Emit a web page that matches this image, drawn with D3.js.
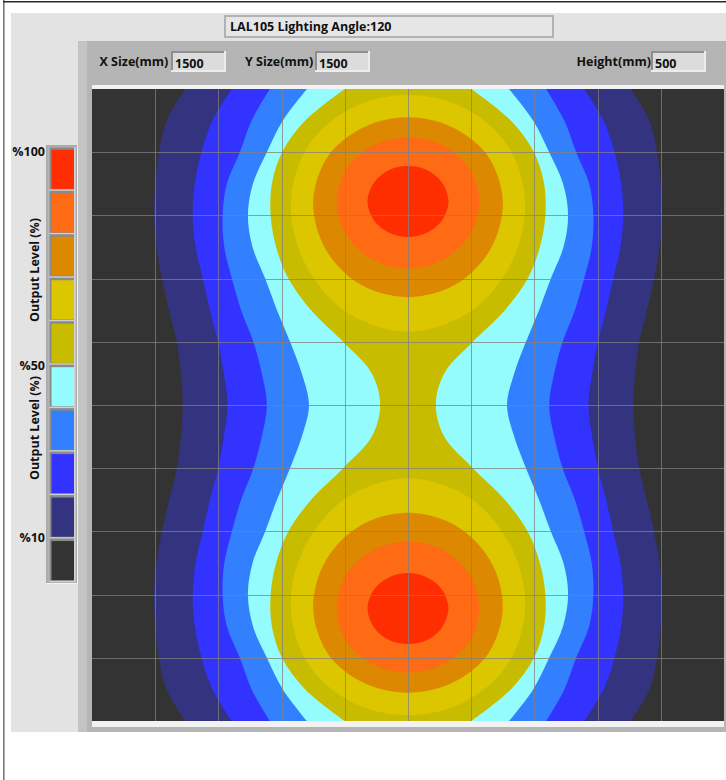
<!DOCTYPE html>
<html><head><meta charset="utf-8">
<script src="https://cdn.jsdelivr.net/npm/d3@7"></script>
<style>html,body{margin:0;padding:0;background:#fff;} svg{display:block;font-family:"Open Sans","Liberation Sans",sans-serif;}</style>
</head><body><svg id="c" width="726" height="780"></svg>
<script>
// ---------------- data (mm) ----------------
const sizeXmm = 1500, sizeYmm = 1500, heightMm = 500;
const titleText = "LAL105 Lighting Angle:120";
const fieldLabels = ["X Size(mm)", "Y Size(mm)", "Height(mm)"];
const fieldValues = ["1500", "1500", "500"];

// level colours, highest output first
const levelColors = ["#ff2e00", "#ff6a14", "#dc8800", "#dbc600", "#c8bc00",
                     "#94fcfc", "#3380ff", "#3333ff", "#333380", "#333333"];
const legendLabels = ["%100", "%50", "%10"];
const legendLabelLevels = [100, 50, 10];
const legendTitle = "Output Level (%)";

// outer bands: half-width (mm) of each band boundary at rows (mm from top edge), upper half
const rowsMM = [0, 75, 150, 225, 300, 375, 450, 525, 600, 675, 750];
const navyHalfWidth      = [529, 573, 591, 600, 603, 597, 584, 567, 549, 539, 535];
const blueHalfWidth      = [418, 464, 490, 506, 511, 504, 487, 470, 451, 437, 428];
const lightBlueHalfWidth = [328, 371, 399, 430, 440, 436, 418, 396, 367, 347, 335];
const cyanHalfWidth      = [240, 297, 335, 368, 380, 369, 339, 311, 280, 252, 235];
const oliveHalfWidth     = [150, 244, 299, 323, 326, 313, 284, 230, 154,  86,  66];

// closed contours around each lamp: radius (mm) at angle (deg, 0 = away from the other lamp)
const lampXmm = 750;
const lampYmm = [267, 1233];
const contourAnglesDeg  = [0, 30, 60, 90, 120, 150, 180];
const yellowRadius      = [253, 259, 271, 278, 285, 300, 309];
const darkOrangeRadius  = [200, 205, 218, 225, 226, 227, 227];
const orangeRadius      = [152, 156, 165, 169, 166, 161, 159];
const redRadius         = [ 84,  87,  92,  96,  92,  86,  84];

const gridStepMm = 150;

// ---------------- drawing ----------------
const svg = d3.select("#c");
const W = 726, H = 780;
const plot = {x0: 92, x1: 724, y0: 89, y1: 721};
const FS = 12.5;

const x = d3.scaleLinear().domain([0, sizeXmm]).range([plot.x0, plot.x1]);
const y = d3.scaleLinear().domain([0, sizeYmm]).range([plot.y0, plot.y1]);
const r = d3.scaleLinear().domain([0, sizeXmm]).range([0, plot.x1 - plot.x0]);

// window frame
svg.append("rect").attr("x", 3).attr("y", 0).attr("width", 1.6).attr("height", H).attr("fill", "#7a7a7a");
svg.append("rect").attr("x", 3).attr("y", 1).attr("width", W - 3).attr("height", 1.5).attr("fill", "#2a2a2a");
// light panel
svg.append("rect").attr("x", 11).attr("y", 13).attr("width", W - 11).attr("height", 719).attr("fill", "#e3e3e3");
// gray panel
svg.append("rect").attr("x", 78).attr("y", 41).attr("width", W - 78).attr("height", 691).attr("fill", "#b5b5b5");
svg.append("rect").attr("x", 78).attr("y", 41).attr("width", 9).attr("height", 691).attr("fill", "#c4c4c4");

// title box
svg.append("rect").attr("x", 225).attr("y", 16).attr("width", 328).attr("height", 21)
  .attr("fill", "#e6e6e6").attr("stroke", "#b2b2b2").attr("stroke-width", 2);
svg.append("text").attr("x", 230).attr("y", 31).attr("font-size", FS).attr("font-weight", 700)
  .attr("fill", "#111").text(titleText);

// fields
const fieldLabelX = [99.5, 245, 576.5];
const fieldBoxX = [171, 315, 651];
fieldLabels.forEach((lab, i) => {
  svg.append("text").attr("x", fieldLabelX[i]).attr("y", 66).attr("font-size", FS).attr("font-weight", 700)
    .attr("fill", "#111").text(lab);
  const bx = fieldBoxX[i], by = 51, bw = 55, bh = 21;
  svg.append("rect").attr("x", bx).attr("y", by).attr("width", bw).attr("height", bh).attr("fill", "#ececec");
  svg.append("rect").attr("x", bx).attr("y", by).attr("width", bw - 2).attr("height", bh - 2).attr("fill", "#8e8e8e");
  svg.append("rect").attr("x", bx + 2).attr("y", by + 2).attr("width", bw - 4).attr("height", bh - 4).attr("fill", "#dcdcdc");
  svg.append("text").attr("x", bx + 4).attr("y", 68).attr("font-size", FS).attr("font-weight", 700)
    .attr("fill", "#111").text(fieldValues[i]);
});

// plot frame strips
svg.append("rect").attr("x", plot.x0).attr("y", 85).attr("width", plot.x1 - plot.x0).attr("height", 4).attr("fill", "#f2f2f2");
svg.append("rect").attr("x", plot.x0).attr("y", plot.y1).attr("width", plot.x1 - plot.x0).attr("height", 6).attr("fill", "#f2f2f2");

const defs = svg.append("defs");
defs.append("clipPath").attr("id", "clip").append("rect")
  .attr("x", plot.x0).attr("y", plot.y0).attr("width", plot.x1 - plot.x0).attr("height", plot.y1 - plot.y0);
const g = svg.append("g").attr("clip-path", "url(#clip)");

g.append("rect").attr("x", plot.x0).attr("y", plot.y0).attr("width", plot.x1 - plot.x0)
  .attr("height", plot.y1 - plot.y0).attr("fill", levelColors[9]);

// bands (full height, mirrored about the centre row)
function bandRows(hw) {
  const top = rowsMM.map((yy, i) => ({y: yy, hw: hw[i]}));
  const bottom = rowsMM.slice(0, -1).map((yy, i) => ({y: sizeYmm - yy, hw: hw[i]})).reverse();
  return top.concat(bottom);
}
const area = d3.area()
  .y(d => y(d.y))
  .x0(d => x(lampXmm - d.hw))
  .x1(d => x(lampXmm + d.hw))
  .curve(d3.curveCatmullRom.alpha(0.5));

const bands = [
  {hw: navyHalfWidth, color: levelColors[8]},
  {hw: blueHalfWidth, color: levelColors[7]},
  {hw: lightBlueHalfWidth, color: levelColors[6]},
  {hw: cyanHalfWidth, color: levelColors[5]},
  {hw: oliveHalfWidth, color: levelColors[4]}
];
g.selectAll("path.band").data(bands).join("path").attr("class", "band")
  .attr("d", d => area(bandRows(d.hw))).attr("fill", d => d.color);

// closed contours around lamps
function ringPoints(radii, flip) {
  const pts = contourAnglesDeg.map((a, i) => ({a, r: radii[i]}));
  const mirror = contourAnglesDeg.slice(1, -1).map((a, i) => ({a: 360 - a, r: radii[i + 1]})).reverse();
  return pts.concat(mirror).map(p => ({a: ((flip ? 180 - p.a : p.a) * Math.PI / 180), r: p.r}));
}
const radial = d3.lineRadial().angle(d => d.a).radius(d => r(d.r)).curve(d3.curveCatmullRomClosed.alpha(0.5));
const rings = [
  {radii: yellowRadius, color: levelColors[3]},
  {radii: darkOrangeRadius, color: levelColors[2]},
  {radii: orangeRadius, color: levelColors[1]},
  {radii: redRadius, color: levelColors[0]}
];
lampYmm.forEach((ly, li) => {
  const lg = g.append("g").attr("transform", `translate(${x(lampXmm)},${y(ly)})`);
  lg.selectAll("path").data(rings).join("path")
    .attr("d", d => radial(ringPoints(d.radii, li === 1)))
    .attr("fill", d => d.color);
});

// grid
const gridTicks = d3.range(gridStepMm, sizeXmm, gridStepMm);
g.selectAll("line.gx").data(gridTicks).join("line").attr("class", "gx")
  .attr("x1", d => Math.round(x(d)) + 0.5).attr("x2", d => Math.round(x(d)) + 0.5)
  .attr("y1", plot.y0).attr("y2", plot.y1)
  .attr("stroke", "#808080").attr("stroke-opacity", 0.75).attr("stroke-width", 1);
g.selectAll("line.gy").data(gridTicks).join("line").attr("class", "gy")
  .attr("y1", d => Math.round(y(d)) + 0.5).attr("y2", d => Math.round(y(d)) + 0.5)
  .attr("x1", plot.x0).attr("x2", plot.x1)
  .attr("stroke", "#808080").attr("stroke-opacity", 0.75).attr("stroke-width", 1);

// legend
const lb = d3.scaleBand().domain(d3.range(levelColors.length)).range([148.5, 581.5]).paddingInner(0.1).paddingOuter(0.03);
svg.append("rect").attr("x", 46).attr("y", 145).attr("width", 32).attr("height", 439).attr("fill", "#f4f4f4");
svg.append("rect").attr("x", 46).attr("y", 145).attr("width", 31).attr("height", 438).attr("fill", "#a9a9a9");
svg.append("rect").attr("x", 47.5).attr("y", 146.5).attr("width", 28.5).attr("height", 435).attr("fill", "#b4b4b4");
const cells = svg.append("g").selectAll("g").data(levelColors).join("g");
cells.append("rect").attr("x", 49.5).attr("y", (d, i) => lb(i) - 2.5)
  .attr("width", 26).attr("height", lb.bandwidth() + 4.5).attr("fill", "#d2d2d2");
cells.append("rect").attr("x", 49.5).attr("y", (d, i) => lb(i) - 2.5)
  .attr("width", 24.5).attr("height", lb.bandwidth() + 3).attr("fill", "#8a8a8a");
cells.append("rect").attr("x", 51.5).attr("y", (d, i) => lb(i))
  .attr("width", 22.5).attr("height", lb.bandwidth()).attr("fill", d => d);

const legY = d3.scaleLinear().domain([100, 10]).range([156, 542]);
svg.selectAll("text.ll").data(legendLabels).join("text").attr("class", "ll")
  .attr("x", 45).attr("y", (d, i) => legY(legendLabelLevels[i]))
  .attr("text-anchor", "end").attr("font-size", FS).attr("font-weight", 700).attr("fill", "#111").text(d => d);
[270, 428].forEach(cy => {
  svg.append("text").attr("transform", `translate(39,${cy}) rotate(-90)`)
    .attr("text-anchor", "middle").attr("font-size", FS).attr("font-weight", 700).attr("fill", "#111").text(legendTitle);
});
</script></body></html>
